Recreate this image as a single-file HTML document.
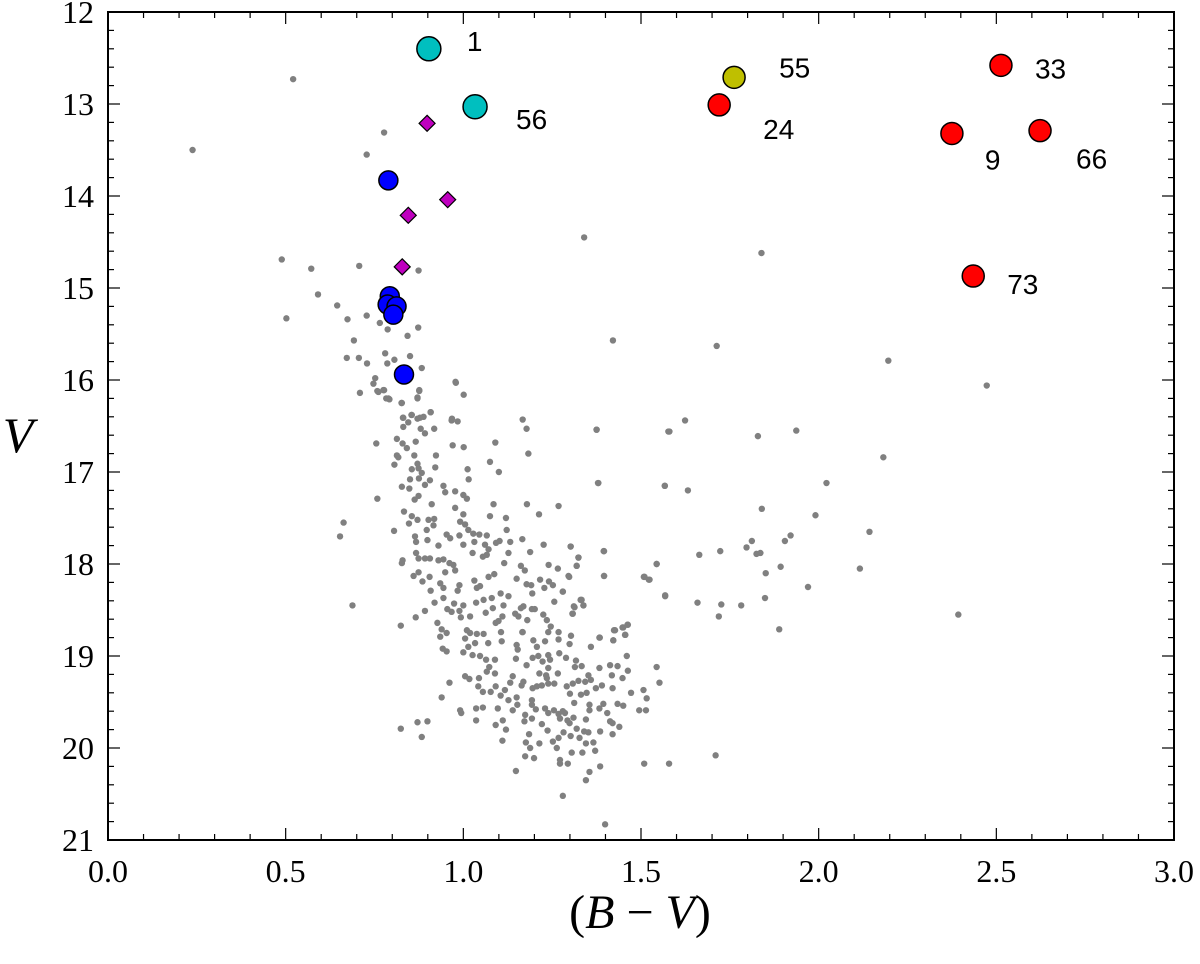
<!DOCTYPE html>
<html><head><meta charset="utf-8"><style>
html,body{margin:0;padding:0;background:#fff;width:1200px;height:964px;overflow:hidden}
svg{display:block}
</style></head><body>
<svg id="chart" width="1200" height="964" xmlns="http://www.w3.org/2000/svg">
<g id="field"></g>
<g id="members"></g>
<g id="axes"></g>
<text x="18" y="452" font-family="Liberation Serif, serif" font-style="italic" font-size="50" text-anchor="middle">V</text>
<text x="640" y="928" font-family="Liberation Serif, serif" font-size="48" text-anchor="middle">(<tspan font-style="italic">B</tspan> − <tspan font-style="italic">V</tspan>)</text>
</svg>
<script>
const fieldBV=[0.521,0.238,0.777,0.728,0.489,0.572,0.707,0.874,0.591,0.645,0.502,0.674,0.728,0.765,0.787,0.873,0.843,0.692,0.672,0.706,0.729,0.780,0.786,0.806,0.850,0.883,0.752,0.747,0.758,0.775,0.709,0.783,0.792,0.826,0.871,0.876,0.978,1.001,0.831,0.854,0.878,0.908,0.968,
0.761,0.777,0.789,0.827,0.876,0.871,0.979,0.830,0.855,0.871,0.888,0.908,0.845,0.831,0.880,0.892,0.918,0.967,0.984,1.167,1.178,1.375,1.577,
0.813,0.829,0.841,0.866,0.755,0.970,1.001,1.090,1.183,0.813,0.817,0.862,0.923,0.806,0.871,0.874,0.855,0.883,0.921,1.075,1.100,1.012,1.015,
0.850,0.875,0.906,0.827,0.848,0.892,0.874,0.863,0.911,0.758,0.944,0.949,0.977,1.000,1.010,0.977,1.379,1.567,1.085,1.179,1.268,
0.833,0.855,0.847,0.871,0.902,0.918,0.916,0.897,0.663,0.653,0.805,1.000,0.991,1.005,1.014,1.075,1.120,1.213,1.122,
0.864,0.867,0.899,0.930,0.953,0.963,0.989,1.000,1.028,1.031,1.045,1.066,1.061,1.071,1.092,1.102,1.132,1.166,1.026,1.055,1.066,1.127,1.188,1.226,1.302,1.396,1.324,
0.829,0.827,0.867,0.874,0.892,0.906,0.930,0.944,0.961,0.972,0.977,0.949,0.860,0.874,0.905,0.885,1.115,1.162,1.173,1.240,1.266,1.319,1.298,1.396,1.544,1.510,1.524,
0.935,0.944,0.908,0.989,0.984,1.031,1.038,1.047,1.071,1.087,1.150,1.178,1.191,1.194,1.216,1.228,1.241,1.252,1.280,1.568,
0.919,0.944,0.974,0.955,0.967,0.989,0.993,1.000,1.019,1.036,1.057,1.063,1.080,1.083,1.105,1.113,1.127,1.146,1.162,1.169,1.155,1.193,1.201,1.180,1.166,1.225,1.235,1.246,1.256,1.308,1.333,1.338,1.313,0.892,0.866,0.824,0.688,
0.927,0.939,0.953,0.935,1.010,1.019,1.005,1.038,1.057,1.033,1.014,1.000,1.026,0.942,0.953,1.070,1.091,1.099,1.106,1.108,1.110,1.167,1.150,1.153,1.197,1.207,1.230,1.239,1.268,1.268,1.299,1.303,1.359,1.383,1.424,1.422,1.450,1.463,1.455,
1.047,1.064,1.089,1.073,1.089,1.066,1.148,1.178,1.195,1.211,1.223,1.239,1.244,1.270,1.289,1.317,1.314,1.333,1.266,1.239,1.233,1.214,1.352,1.359,1.383,1.413,1.418,1.434,1.460,1.463,1.448,1.544,1.552,
1.005,1.017,1.044,0.961,1.042,1.055,1.077,1.091,1.117,1.139,1.132,1.164,1.169,1.195,1.207,1.221,1.235,1.239,1.256,1.291,1.308,1.324,1.343,1.347,1.331,1.300,1.373,1.390,1.420,1.472,1.507,1.516,0.939,
1.105,1.127,1.150,1.152,1.139,1.193,1.193,1.204,1.097,1.036,1.055,0.991,0.994,1.174,1.193,1.230,1.239,1.255,1.268,1.280,1.286,1.272,1.312,1.293,1.310,1.345,1.355,1.355,1.383,1.394,1.405,1.434,1.450,1.495,1.514,
0.871,0.899,0.824,0.883,1.036,1.091,1.111,1.120,1.172,1.185,1.221,1.237,1.252,1.268,1.263,1.282,1.299,1.302,1.319,1.327,1.305,1.340,1.352,1.345,1.366,1.371,1.385,1.413,1.420,1.439,1.420,1.335,1.110,1.176,1.188,1.214,1.174,1.199,
1.148,1.272,1.272,1.294,1.355,1.345,1.385,1.509,1.579,1.280,1.399,1.710,
1.340,1.839,1.421,1.713,2.196,2.473,1.375,1.580,1.624,1.829,1.937,2.182,1.380,1.567,1.632,2.022,1.840,1.991,2.143,1.302,1.395,1.324,1.319,1.296,1.396,1.544,1.508,1.522,1.664,1.723,1.797,1.812,1.825,1.836,1.905,1.921,1.893,1.851,2.116,1.970,1.568,1.659,1.726,1.782,1.719,1.849,1.889,2.393,1.280,1.330,1.338,1.311,1.307,1.427,1.448,1.462,1.456,1.422,1.384];
const fieldV=[12.73,13.50,13.31,13.55,14.69,14.79,14.76,14.81,15.07,15.19,15.33,15.34,15.30,15.38,15.45,15.43,15.52,15.57,15.76,15.76,15.82,15.71,15.82,15.78,15.74,15.87,15.98,16.04,16.12,16.11,16.14,16.20,16.21,16.25,16.19,16.11,16.02,16.16,16.41,16.38,16.41,16.35,16.42,
16.13,16.11,16.20,16.25,16.12,16.20,16.03,16.41,16.38,16.42,16.40,16.35,16.46,16.51,16.53,16.58,16.53,16.44,16.45,16.43,16.53,16.54,16.56,
16.64,16.69,16.74,16.67,16.69,16.71,16.73,16.68,16.80,16.82,16.84,16.82,16.82,16.92,16.91,16.96,16.97,17.01,16.95,16.89,17.00,16.97,17.08,
17.08,17.07,17.09,17.16,17.18,17.14,17.26,17.30,17.35,17.29,17.15,17.22,17.21,17.25,17.29,17.39,17.12,17.15,17.35,17.35,17.37,
17.43,17.48,17.56,17.52,17.52,17.51,17.58,17.63,17.55,17.70,17.64,17.46,17.54,17.57,17.63,17.48,17.50,17.46,17.63,
17.70,17.76,17.74,17.80,17.68,17.72,17.69,17.79,17.67,17.76,17.68,17.69,17.79,17.84,17.77,17.75,17.76,17.73,17.88,17.92,17.90,17.88,17.87,17.79,17.81,17.86,17.93,
17.96,17.99,17.88,17.94,17.94,17.94,17.96,17.95,17.99,18.01,18.07,18.09,18.13,18.09,18.14,18.19,17.99,18.02,18.07,18.01,18.05,18.02,18.14,18.13,18.00,18.14,18.17,
18.21,18.26,18.29,18.23,18.29,18.18,18.26,18.24,18.14,18.11,18.16,18.22,18.23,18.32,18.17,18.26,18.19,18.23,18.30,18.35,
18.42,18.37,18.43,18.49,18.52,18.51,18.58,18.45,18.57,18.42,18.39,18.53,18.37,18.48,18.32,18.45,18.35,18.54,18.48,18.46,18.57,18.49,18.49,18.61,18.74,18.55,18.61,18.68,18.41,18.54,18.39,18.45,18.47,18.51,18.58,18.67,18.45,
18.64,18.71,18.75,18.79,18.72,18.75,18.81,18.76,18.76,18.86,18.90,18.96,18.99,18.92,18.95,18.86,18.64,18.62,18.74,18.84,18.57,18.74,18.88,18.93,18.83,18.90,18.84,18.74,18.74,18.82,18.87,18.78,18.90,18.80,18.72,18.83,18.69,18.66,18.77,
19.00,19.04,19.04,19.12,19.19,19.17,19.03,19.10,19.02,19.00,19.06,18.99,19.04,18.97,19.02,19.05,19.12,19.11,19.19,19.13,19.21,19.19,19.21,19.26,19.13,19.10,19.21,19.11,19.00,19.16,19.24,19.12,19.29,
19.22,19.25,19.24,19.29,19.33,19.39,19.39,19.33,19.37,19.22,19.29,19.32,19.28,19.35,19.33,19.32,19.24,19.30,19.30,19.33,19.30,19.27,19.28,19.40,19.42,19.41,19.35,19.32,19.35,19.40,19.37,19.46,19.45,
19.43,19.48,19.45,19.53,19.59,19.48,19.53,19.58,19.57,19.57,19.56,19.59,19.62,19.64,19.68,19.57,19.62,19.59,19.63,19.60,19.62,19.68,19.51,19.70,19.67,19.69,19.53,19.59,19.57,19.52,19.62,19.52,19.54,19.59,19.59,
19.72,19.71,19.79,19.88,19.70,19.75,19.70,19.80,19.71,19.85,19.74,19.81,19.93,19.89,20.00,19.83,19.73,19.87,19.79,19.89,20.05,19.82,19.83,19.95,19.94,20.03,19.82,19.71,19.73,19.77,19.85,20.05,19.92,19.94,20.00,19.95,20.09,20.11,
20.25,20.13,20.17,20.17,20.26,20.35,20.20,20.17,20.17,20.52,20.83,20.08,
14.45,14.62,15.57,15.63,15.79,16.06,16.54,16.56,16.44,16.61,16.55,16.84,17.12,17.15,17.20,17.12,17.40,17.47,17.65,17.81,17.86,17.93,18.02,18.13,18.13,18.00,18.14,18.17,17.90,17.86,17.82,17.75,17.89,17.88,17.75,17.69,18.03,18.10,18.05,18.25,18.34,18.42,18.44,18.45,18.57,18.37,18.71,18.55,18.30,18.39,18.45,18.46,18.54,18.72,18.69,18.66,18.77,18.83,18.80];

const cyanBV=[0.903,1.033], cyanV=[12.40,13.03], cyanLabels=["1","56"];
const diamondBV=[0.898,0.956,0.845,0.828], diamondV=[13.21,14.04,14.21,14.77];
const blueBV=[0.789,0.793,0.787,0.812,0.803,0.833], blueV=[13.83,15.09,15.18,15.20,15.29,15.94];
const yellowBV=[1.762], yellowV=[12.71], yellowLabels=["55"];
const redBV=[1.720,2.513,2.375,2.623,2.435], redV=[13.01,12.58,13.32,13.29,14.87], redLabels=["24","33","9","66","73"];
const labelDX={"1":48,"56":51,"55":63,"24":62,"33":52,"9":41,"66":54,"73":52};
const labelDY={"1":-8,"56":12,"55":-10,"24":24,"33":3,"9":26,"66":28,"73":8};
const xTicks=["0.0","0.5","1.0","1.5","2.0","2.5","3.0"];
const yTicks=["12","13","14","15","16","17","18","19","20","21"];

const X0=108,X1=1174,Y0=12,Y1=840;
const sx=v=>X0+(v-0)/3*(X1-X0);
const sy=v=>Y0+(v-12)/9*(Y1-Y0);
const NS="http://www.w3.org/2000/svg";
function mk(tag,attrs,parent){const e=document.createElementNS(NS,tag);for(const k in attrs)e.setAttribute(k,attrs[k]);parent.appendChild(e);return e;}
const field=document.getElementById('field'),mem=document.getElementById('members'),axes=document.getElementById('axes');
const n=Math.min(fieldBV.length,fieldV.length);
for(let i=0;i<n;i++){const c=mk('circle',{cx:sx(fieldBV[i]),cy:sy(fieldV[i]),r:3.2,fill:'#808080'},field);

}
function lab(t,x,y){const e=mk('text',{x:x,y:y,'font-family':'Liberation Sans, sans-serif','font-size':28,fill:'#000'},mem);e.textContent=t;

}
cyanBV.forEach((b,i)=>{const c=mk('circle',{cx:sx(b),cy:sy(cyanV[i]),r:12,fill:'#00bfbf',stroke:'#000','stroke-width':1.5},mem);


lab(cyanLabels[i],sx(b)+labelDX[cyanLabels[i]]-10,sy(cyanV[i])+labelDY[cyanLabels[i]]+10);});
yellowBV.forEach((b,i)=>{const c=mk('circle',{cx:sx(b),cy:sy(yellowV[i]),r:11,fill:'#bfbf00',stroke:'#000','stroke-width':1.5},mem);


lab(yellowLabels[i],sx(b)+labelDX[yellowLabels[i]]-18,sy(yellowV[i])+labelDY[yellowLabels[i]]+10);});
redBV.forEach((b,i)=>{const c=mk('circle',{cx:sx(b),cy:sy(redV[i]),r:11,fill:'#ff0000',stroke:'#000','stroke-width':1.5},mem);


const t=redLabels[i];lab(t,sx(b)+labelDX[t]-(t.length>1?18:8),sy(redV[i])+labelDY[t]+10);});
diamondBV.forEach((b,i)=>{const x=sx(b),y=sy(diamondV[i]),d=8;
const p=mk('polygon',{points:`${x},${y-d} ${x+d},${y} ${x},${y+d} ${x-d},${y}`,fill:'#bf00bf',stroke:'#000','stroke-width':1.2},mem);

});
blueBV.forEach((b,i)=>{const c=mk('circle',{cx:sx(b),cy:sy(blueV[i]),r:9.5,fill:'#0000ff',stroke:'#000','stroke-width':1.5},mem);

});
const fr=mk('rect',{x:X0,y:Y0,width:X1-X0,height:Y1-Y0,fill:'none',stroke:'#000','stroke-width':2},axes);


for(let k=0;k<=30;k++){const v=k/10,x=sx(v),L=(k%5==0)?12:6;
mk('line',{x1:x,y1:Y1,x2:x,y2:Y1-L,stroke:'#000','stroke-width':1.2},axes);
mk('line',{x1:x,y1:Y0,x2:x,y2:Y0+L,stroke:'#000','stroke-width':1.2},axes);}
for(let k=0;k<=45;k++){const v=12+k/5,y=sy(v),L=(k%5==0)?12:6;
mk('line',{x1:X0,y1:y,x2:X0+L,y2:y,stroke:'#000','stroke-width':1.2},axes);
mk('line',{x1:X1,y1:y,x2:X1-L,y2:y,stroke:'#000','stroke-width':1.2},axes);}
xTicks.forEach(t=>{const e=mk('text',{x:sx(parseFloat(t)),y:Y1+42,'text-anchor':'middle','font-family':'Liberation Serif, serif','font-size':32},axes);e.textContent=t;

});
yTicks.forEach(t=>{const e=mk('text',{x:X0-14,y:sy(parseFloat(t))+11,'text-anchor':'end','font-family':'Liberation Serif, serif','font-size':32},axes);e.textContent=t;

});
</script>
</body></html>
